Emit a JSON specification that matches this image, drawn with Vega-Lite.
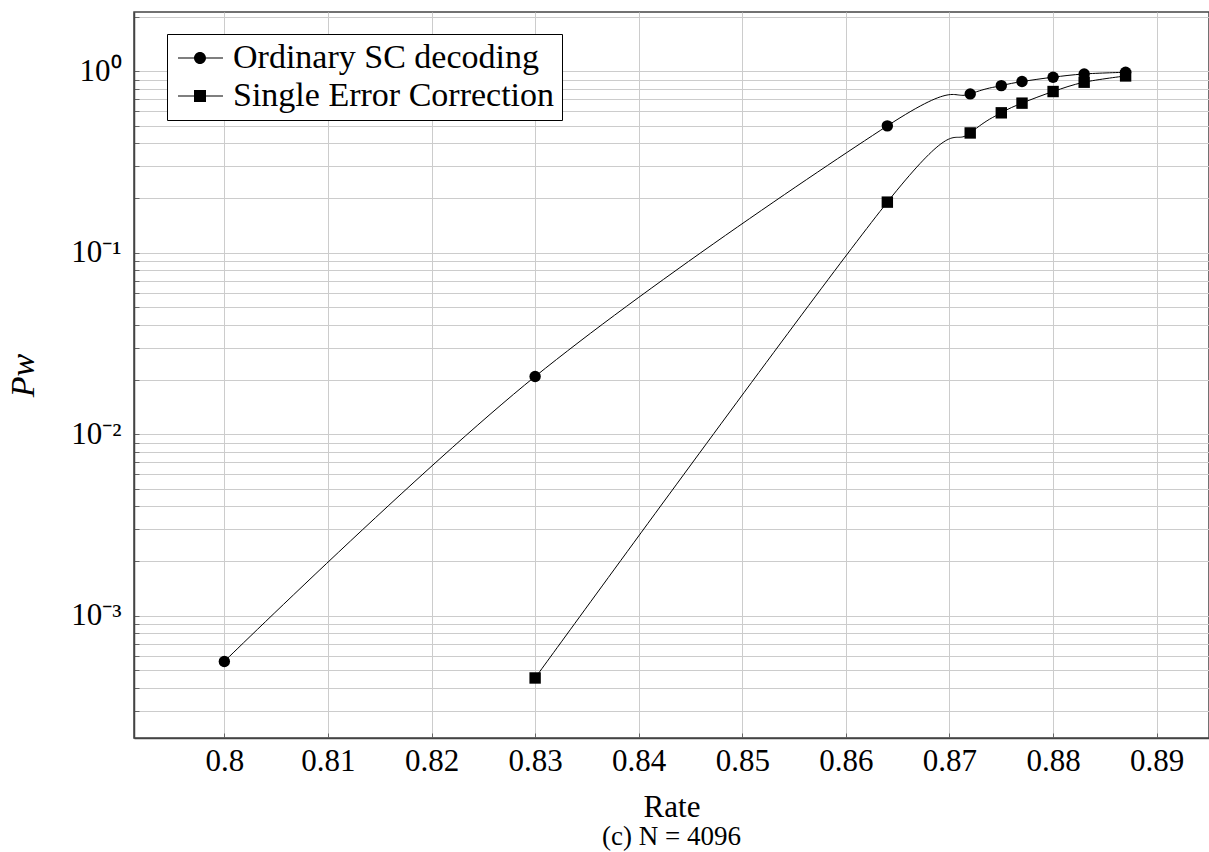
{
  "$schema": "https://vega.github.io/schema/vega-lite/v6.json",
  "autosize": {"type": "none"},
  "width": 1075,
  "height": 726,
  "padding": {"left": 134, "top": 12, "right": 0, "bottom": 114},
  "background": "white",
  "config": {
    "view": {"stroke": "#444444", "strokeWidth": 1.5},
    "font": "Liberation Serif"
  },
  "title": {
    "text": "(c) N = 4096",
    "orient": "bottom",
    "anchor": "middle",
    "font": "Liberation Serif",
    "fontSize": 27,
    "fontWeight": "normal",
    "color": "black",
    "offset": 2
  },
  "data": {
    "values": [
      {"rate": 0.8, "pw": 0.00056, "series": "Ordinary SC decoding"},
      {"rate": 0.83, "pw": 0.0208, "series": "Ordinary SC decoding"},
      {"rate": 0.864, "pw": 0.5, "series": "Ordinary SC decoding"},
      {"rate": 0.872, "pw": 0.75, "series": "Ordinary SC decoding"},
      {"rate": 0.875, "pw": 0.833, "series": "Ordinary SC decoding"},
      {"rate": 0.877, "pw": 0.877, "series": "Ordinary SC decoding"},
      {"rate": 0.88, "pw": 0.927, "series": "Ordinary SC decoding"},
      {"rate": 0.883, "pw": 0.966, "series": "Ordinary SC decoding"},
      {"rate": 0.887, "pw": 0.987, "series": "Ordinary SC decoding"},
      {"rate": 0.83, "pw": 0.000454, "series": "Single Error Correction"},
      {"rate": 0.864, "pw": 0.19, "series": "Single Error Correction"},
      {"rate": 0.872, "pw": 0.457, "series": "Single Error Correction"},
      {"rate": 0.875, "pw": 0.59, "series": "Single Error Correction"},
      {"rate": 0.877, "pw": 0.667, "series": "Single Error Correction"},
      {"rate": 0.88, "pw": 0.773, "series": "Single Error Correction"},
      {"rate": 0.883, "pw": 0.87, "series": "Single Error Correction"},
      {"rate": 0.887, "pw": 0.942, "series": "Single Error Correction"}
    ]
  },
  "encoding": {
    "x": {
      "field": "rate",
      "type": "quantitative",
      "scale": {"domain": [0.79128, 0.89505], "nice": false, "zero": false},
      "axis": {
        "title": "Rate",
        "values": [0.8, 0.81, 0.82, 0.83, 0.84, 0.85, 0.86, 0.87, 0.88, 0.89],
        "format": ".2~f",
        "labelFont": "Liberation Serif",
        "labelFontSize": 31,
        "labelColor": "black",
        "labelPadding": 13,
        "labelFlush": false,
        "labelOverlap": false,
        "titleFont": "Liberation Serif",
        "titleFontSize": 31,
        "titleFontWeight": "normal",
        "titleColor": "black",
        "titlePadding": 16,
        "grid": true,
        "gridColor": "#cccccc",
        "gridWidth": 1,
        "domainColor": "#444444",
        "domainWidth": 1.5,
        "tickColor": "#666666",
        "tickSize": -5,
        "tickWidth": 1
      }
    },
    "y": {
      "field": "pw",
      "type": "quantitative",
      "scale": {"type": "log", "domain": [0.000212, 2.12], "nice": false},
      "axis": {
        "title": "Pw",
        "values": [0.0003, 0.0004, 0.0005, 0.0006, 0.0007, 0.0008, 0.0009,
                   0.001, 0.002, 0.003, 0.004, 0.005, 0.006, 0.007, 0.008, 0.009,
                   0.01, 0.02, 0.03, 0.04, 0.05, 0.06, 0.07, 0.08, 0.09,
                   0.1, 0.2, 0.3, 0.4, 0.5, 0.6, 0.7, 0.8, 0.9, 1, 2],
        "labelExpr": "datum.value == 1 ? '10⁰' : datum.value == 0.1 ? '10⁻¹' : datum.value == 0.01 ? '10⁻²' : datum.value == 0.001 ? '10⁻³' : ''",
        "labelFont": "Liberation Serif",
        "labelFontSize": 31,
        "labelColor": "black",
        "labelPadding": 18,
        "labelOverlap": false,
        "labelFlush": false,
        "titleFont": "Liberation Serif",
        "titleFontSize": 34,
        "titleFontStyle": "italic",
        "titleFontWeight": "normal",
        "titleColor": "black",
        "titlePadding": 30,
        "grid": true,
        "gridColor": "#cccccc",
        "gridWidth": 1,
        "domainColor": "#444444",
        "domainWidth": 1.5,
        "tickColor": "#666666",
        "tickSize": -5,
        "tickWidth": 1
      }
    }
  },
  "resolve": {"scale": {"shape": "independent"}, "legend": {"shape": "independent"}},
  "layer": [
    {
      "mark": {"type": "line", "interpolate": "cardinal", "tension": 0, "color": "black", "strokeWidth": 1},
      "encoding": {
        "detail": {"field": "series", "type": "nominal"}
      }
    },
    {
      "mark": {"type": "point", "filled": true, "color": "black", "opacity": 1, "size": 130},
      "encoding": {
        "shape": {
          "field": "series",
          "type": "nominal",
          "scale": {"domain": ["Ordinary SC decoding", "Single Error Correction"], "range": ["circle", "square"]},
          "legend": null
        }
      }
    },
    {
      "transform": [{"filter": "datum.rate > 5"}],
      "mark": {"type": "point", "filled": true, "color": "black", "opacity": 1, "size": 900},
      "encoding": {
        "shape": {
          "field": "series",
          "type": "nominal",
          "scale": {
            "domain": ["Ordinary SC decoding", "Single Error Correction"],
            "range": [
              "M-0.867,-0.035L0.2,-0.035L0.2,0.035L-0.867,0.035ZM1,-0.035L2.133,-0.035L2.133,0.035L1,0.035ZM1,0A0.4,0.4,0,1,1,0.2,0A0.4,0.4,0,1,1,1,0Z",
              "M-0.867,-0.035L0.2,-0.035L0.2,0.035L-0.867,0.035ZM1,-0.035L2.133,-0.035L2.133,0.035L1,0.035ZM0.2,-0.4L1,-0.4L1,0.4L0.2,0.4Z"
            ]
          },
          "legend": {
            "title": null,
            "orient": "none",
            "legendX": 33,
            "legendY": 22,
            "padding": 7,
            "fillColor": "white",
            "strokeColor": "black",
            "cornerRadius": 0,
            "labelFont": "Liberation Serif",
            "labelFontSize": 34,
            "labelColor": "black",
            "labelLimit": 0,
            "labelOffset": 25,
            "rowPadding": 4,
            "symbolSize": 900,
            "symbolFillColor": "black"
          }
        }
      }
    }
  ]
}
